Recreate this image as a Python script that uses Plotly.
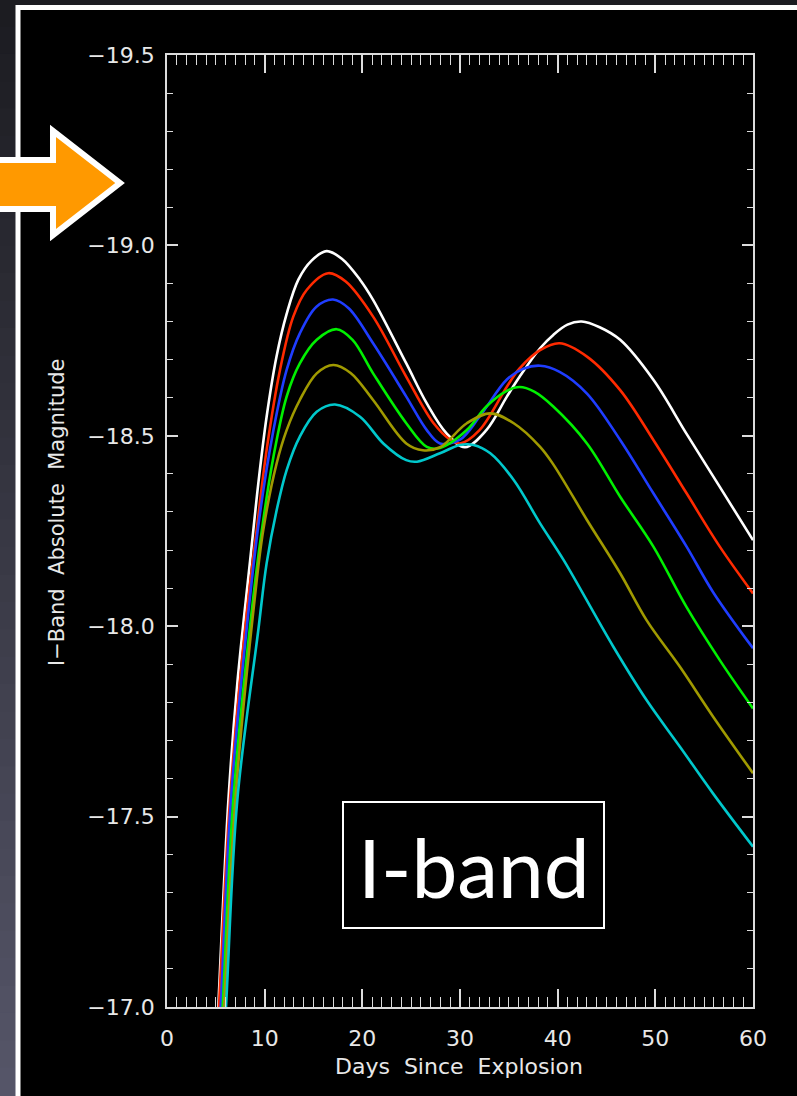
import plotly.graph_objects as go

# ---------------- data ----------------
white_days = [4.8, 5.25, 6.28, 7.2, 8.5, 9.35, 10.2, 11.23, 12.25, 13.45, 14.8, 16.35, 17.9, 19.76, 21.1, 24.5, 26.6, 28.6, 30.5, 32.7, 34.8, 36.1, 38.2, 39.55, 41.0, 42.46, 44.3, 46.4, 49.8, 53.2, 56.6, 60.0]
white_mag = [-16.76, -17.0, -17.54, -17.85, -18.17, -18.375, -18.55, -18.71, -18.82, -18.91, -18.96, -18.985, -18.965, -18.91, -18.857, -18.69, -18.585, -18.507, -18.47, -18.515, -18.603, -18.655, -18.73, -18.765, -18.792, -18.80, -18.785, -18.752, -18.647, -18.505, -18.366, -18.226]

red_days = [4.9, 5.32, 6.45, 8.16, 9.18, 10.2, 11.57, 12.93, 14.3, 16.5, 18.3, 21.1, 24.5, 27.3, 29.0, 30.0, 32.0, 34.8, 36.1, 38.2, 40.2, 43.0, 46.4, 49.8, 53.2, 56.6, 60.0]
red_mag = [-16.8, -17.0, -17.544, -18.034, -18.253, -18.463, -18.673, -18.813, -18.883, -18.927, -18.905, -18.813, -18.655, -18.533, -18.49, -18.48, -18.515, -18.629, -18.677, -18.725, -18.743, -18.708, -18.62, -18.489, -18.349, -18.209, -18.086]

blue_days = [5.0, 5.5, 6.55, 8.5, 9.52, 10.9, 12.25, 13.6, 15.3, 17.0, 18.6, 21.1, 24.5, 26.6, 27.95, 30.0, 32.0, 34.8, 36.5, 38.2, 40.2, 43.0, 46.4, 49.8, 53.2, 55.9, 60.0]
blue_mag = [-16.78, -17.0, -17.544, -18.077, -18.296, -18.515, -18.673, -18.769, -18.839, -18.858, -18.835, -18.743, -18.603, -18.515, -18.48, -18.49, -18.55, -18.648, -18.676, -18.684, -18.668, -18.611, -18.489, -18.349, -18.209, -18.09, -17.942]

green_days = [5.2, 5.7, 6.79, 8.84, 9.86, 10.9, 12.25, 13.6, 15.33, 17.37, 19.0, 21.1, 24.5, 26.6, 27.95, 30.7, 32.7, 34.8, 36.1, 37.6, 39.55, 43.0, 46.4, 49.8, 53.2, 56.6, 60.0]
green_mag = [-16.78, -17.0, -17.544, -18.077, -18.279, -18.445, -18.603, -18.69, -18.752, -18.78, -18.752, -18.664, -18.533, -18.471, -18.468, -18.515, -18.577, -18.618, -18.628, -18.616, -18.577, -18.48, -18.34, -18.209, -18.05, -17.911, -17.784]

olive_days = [5.3, 5.84, 7.0, 9.0, 9.86, 11.23, 12.25, 13.6, 15.33, 17.03, 18.8, 21.1, 24.5, 26.2, 27.95, 30.7, 33.1, 35.5, 38.2, 39.55, 43.0, 46.4, 49.1, 52.5, 55.9, 60.0]
olive_mag = [-16.78, -17.0, -17.544, -18.077, -18.253, -18.428, -18.515, -18.594, -18.664, -18.686, -18.665, -18.594, -18.48, -18.462, -18.47, -18.533, -18.559, -18.533, -18.471, -18.425, -18.279, -18.139, -18.016, -17.894, -17.763, -17.614]

cyan_days = [5.5, 6.04, 7.2, 9.35, 10.2, 11.23, 12.25, 13.6, 15.33, 17.2, 19.76, 22.15, 24.5, 25.6, 27.95, 30.0, 31.4, 33.1, 35.5, 38.2, 40.6, 45.7, 49.1, 52.5, 55.9, 60.0]
cyan_mag = [-16.76, -17.0, -17.544, -17.99, -18.165, -18.305, -18.41, -18.498, -18.563, -18.582, -18.55, -18.48, -18.436, -18.432, -18.454, -18.476, -18.476, -18.454, -18.384, -18.27, -18.174, -17.946, -17.806, -17.684, -17.561, -17.421]

x_ticks = [0, 10, 20, 30, 40, 50, 60]
y_ticks = [-19.5, -19.0, -18.5, -18.0, -17.5, -17.0]

series = [
    (white_days, white_mag, "#ffffff"),
    (red_days, red_mag, "#ff2a00"),
    (blue_days, blue_mag, "#1f3dff"),
    (green_days, green_mag, "#00f000"),
    (olive_days, olive_mag, "#a09a00"),
    (cyan_days, cyan_mag, "#00c8cc"),
]

# ---------------- geometry helpers (pixel -> paper) ----------------
W, H = 797, 1096
L, R, T, B = 167, 753, 55, 1007


def px(x):
    return (x - L) / (R - L)


def py(y):
    return (B - y) / (B - T)


fig = go.Figure()
for d, m, c in series:
    fig.add_trace(go.Scatter(x=d, y=m, mode="lines",
                             line=dict(color=c, width=2.6, shape="spline", smoothing=1.0),
                             showlegend=False, hoverinfo="skip"))

tick_font = dict(family="DejaVu Sans", size=22, color="#e8e8e8")
axcol = "#dcdcdc"

shapes = []
# background gradient (outside the panel)
nb = 40
c0 = (0x1c, 0x1c, 0x21)
c1 = (0x55, 0x55, 0x68)
for i in range(nb):
    f = i / (nb - 1)
    col = "rgb(%d,%d,%d)" % tuple(round(a + (b - a) * f) for a, b in zip(c0, c1))
    shapes.append(dict(type="rect", xref="paper", yref="paper",
                       x0=px(-5), x1=px(W + 5), y0=py(H * i / nb - 1), y1=py(H * (i + 1) / nb + 1),
                       fillcolor=col, line=dict(width=0), layer="below"))
# black panel with white border
shapes.append(dict(type="rect", xref="paper", yref="paper",
                   x0=px(18), x1=px(800), y0=py(7.5), y1=py(1110),
                   fillcolor="black", line=dict(color="white", width=5), layer="below"))
# orange arrow
pts = [(-10, 160), (53, 160), (53, 131), (120, 183), (53, 235), (53, 209), (-10, 209)]
path = "M " + " L ".join(f"{px(a):.5f},{py(b):.5f}" for a, b in pts) + " Z"
shapes.append(dict(type="path", xref="paper", yref="paper", path=path,
                   fillcolor="#ff9900", line=dict(color="white", width=6), layer="above"))
# I-band box
shapes.append(dict(type="rect", xref="paper", yref="paper",
                   x0=px(343), x1=px(604), y0=py(928), y1=py(802),
                   fillcolor="black", line=dict(color="white", width=2), layer="above"))

annotations = [
    dict(text="I-band", xref="paper", yref="paper", x=px(473.5), y=py(866),
         xanchor="center", yanchor="middle", showarrow=False,
         font=dict(family="Lato", size=82, color="white")),
    dict(text="Days  Since  Explosion", xref="paper", yref="paper", x=px(459), y=py(1066),
         xanchor="center", yanchor="middle", showarrow=False,
         font=dict(family="DejaVu Sans", size=22, color="#e8e8e8")),
    dict(text="I−Band  Absolute  Magnitude", xref="paper", yref="paper", x=px(57), y=py(513),
         xanchor="center", yanchor="middle", showarrow=False, textangle=-90,
         font=dict(family="DejaVu Sans", size=21, color="#e8e8e8")),
]

fig.update_layout(
    width=W, height=H,
    margin=dict(l=L, r=W - R, t=T, b=H - B, pad=0),
    paper_bgcolor="#30303a",
    plot_bgcolor="black",
    shapes=shapes,
    annotations=annotations,
    xaxis=dict(range=[0, 60], tickvals=x_ticks, ticks="inside", ticklen=18, tickwidth=1.5,
               tickcolor=axcol, showline=True, linecolor=axcol, linewidth=1.8, mirror="allticks",
               showgrid=False, zeroline=False, tickfont=tick_font, ticklabelstandoff=11,
               minor=dict(dtick=1, ticks="inside", ticklen=10, tickwidth=1.3, tickcolor=axcol, showgrid=False)),
    yaxis=dict(range=[-17.0, -19.5], tickvals=y_ticks, tickformat=".1f", ticks="inside", ticklen=11,
               tickwidth=1.5, tickcolor=axcol, showline=True, linecolor=axcol, linewidth=1.8,
               mirror="allticks", showgrid=False, zeroline=False, tickfont=tick_font, ticklabelstandoff=6,
               minor=dict(dtick=0.1, tick0=-19.5, ticks="inside", ticklen=6, tickwidth=1.3, tickcolor=axcol, showgrid=False)),
)

fig.write_html("out.html")
